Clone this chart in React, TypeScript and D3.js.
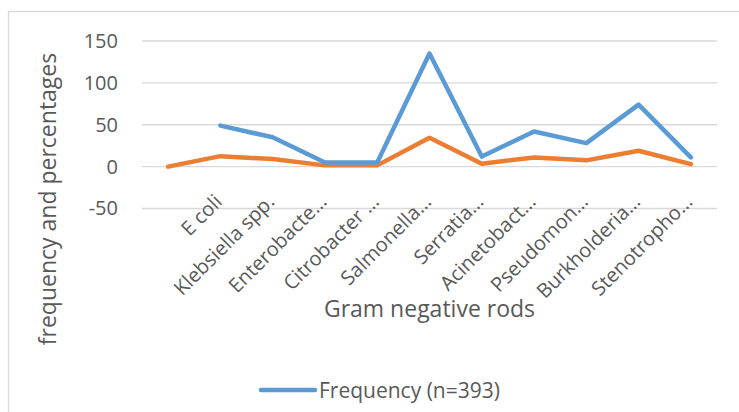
import { useEffect, useRef } from 'react';
import * as d3 from 'd3';

// Gram negative rods: frequency and percentage per organism
const categories = ['', 'E coli', 'Klebsiella spp.', 'Enterobacte…', 'Citrobacter …', 'Salmonella…', 'Serratia…', 'Acinetobact…', 'Pseudomon…', 'Burkholderia…', 'Stenotropho…'];
const frequency: (number | null)[] = [null, 49, 35, 5, 5, 135, 12, 42, 28, 74, 11];
const percentage: (number | null)[] = [0, 12.5, 9, 1.5, 1.5, 34.5, 3.5, 11, 7.5, 19, 3];
const yTicks = [-50, 0, 50, 100, 150];

const FONT = "'Open Sans', sans-serif";
const TEXT = '#595959';

export default function App() {
  const svgRef = useRef<SVGSVGElement>(null);

  useEffect(() => {
    if (!svgRef.current) return;
    const W = 739;
    const H = 412;
    const plot = { left: 142, right: 717, top: 41, bottom: 208.5 };

    const svg = d3.select(svgRef.current);
    svg.selectAll('*').remove();

    // chart frame
    svg.append('rect')
      .attr('x', 8.5)
      .attr('y', 11.5)
      .attr('width', W + 20)
      .attr('height', H + 20)
      .attr('fill', '#fff')
      .attr('stroke', '#d9d9d9')
      .attr('stroke-width', 1.3);

    const x = d3.scaleBand<string>()
      .domain(categories.map((c, i) => i + ':' + c))
      .range([plot.left, plot.right])
      .padding(0);
    const cx = (i: number) => (x(i + ':' + categories[i]) as number) + x.bandwidth() / 2;

    const y = d3.scaleLinear().domain([-50, 150]).range([plot.bottom, plot.top]);

    // gridlines
    svg.append('g')
      .selectAll('line')
      .data(yTicks)
      .join('line')
      .attr('x1', plot.left)
      .attr('x2', plot.right)
      .attr('y1', d => y(d))
      .attr('y2', d => y(d))
      .attr('stroke', '#d9d9d9')
      .attr('stroke-width', 1.3);

    // Y axis labels (plain hyphen for negatives, like Excel)
    svg.append('g')
      .attr('transform', `translate(${plot.left - 24}, 0)`)
      .call(d3.axisLeft(y).tickValues(yTicks).tickSize(0).tickPadding(0).tickFormat(d => String(d)))
      .call(g => g.select('.domain').remove())
      .selectAll('text')
      .attr('fill', TEXT)
      .attr('font-size', '20px')
      .attr('font-family', FONT);

    // X labels, rotated
    svg.append('g')
      .selectAll('text')
      .data(categories)
      .join('text')
      .attr('text-anchor', 'end')
      .attr('transform', (d, i) => `translate(${cx(i) + 3}, 203) rotate(-45)`)
      .attr('fill', TEXT)
      .attr('font-size', '20px')
      .attr('font-family', FONT)
      .text(d => d);

    // lines
    const line = d3.line<number | null>()
      .defined(d => d != null)
      .x((d, i) => cx(i))
      .y(d => y(d as number));

    svg.append('path')
      .datum(percentage)
      .attr('d', line)
      .attr('fill', 'none')
      .attr('stroke', '#ed7d31')
      .attr('stroke-width', 4.5)
      .attr('stroke-linejoin', 'round')
      .attr('stroke-linecap', 'round');

    svg.append('path')
      .datum(frequency)
      .attr('d', line)
      .attr('fill', 'none')
      .attr('stroke', '#5b9bd5')
      .attr('stroke-width', 4.5)
      .attr('stroke-linejoin', 'round')
      .attr('stroke-linecap', 'round');

    // axis titles
    svg.append('text')
      .attr('x', (plot.left + plot.right) / 2)
      .attr('y', 317)
      .attr('text-anchor', 'middle')
      .attr('fill', TEXT)
      .attr('font-size', '23px')
      .attr('font-family', FONT)
      .text('Gram negative rods');

    svg.append('text')
      .attr('transform', `translate(56, 199) rotate(-90)`)
      .attr('text-anchor', 'middle')
      .attr('fill', TEXT)
      .attr('font-size', '23px')
      .attr('font-family', FONT)
      .text('frequency and percentages');

    // legend
    const legend = svg.append('g').attr('transform', 'translate(261, 390)');
    legend.append('line')
      .attr('x1', 0)
      .attr('x2', 54)
      .attr('stroke', '#5b9bd5')
      .attr('stroke-width', 4.5)
      .attr('stroke-linecap', 'round');
    legend.append('text')
      .attr('x', 58)
      .attr('y', 7.5)
      .attr('fill', TEXT)
      .attr('font-size', '21px')
      .attr('font-family', FONT)
      .text('Frequency (n=393)');
  }, []);

  return (
    <svg
      ref={svgRef}
      width={739}
      height={412}
      style={{ position: 'absolute', left: 0, top: 0, display: 'block' }}
    />
  );
}
